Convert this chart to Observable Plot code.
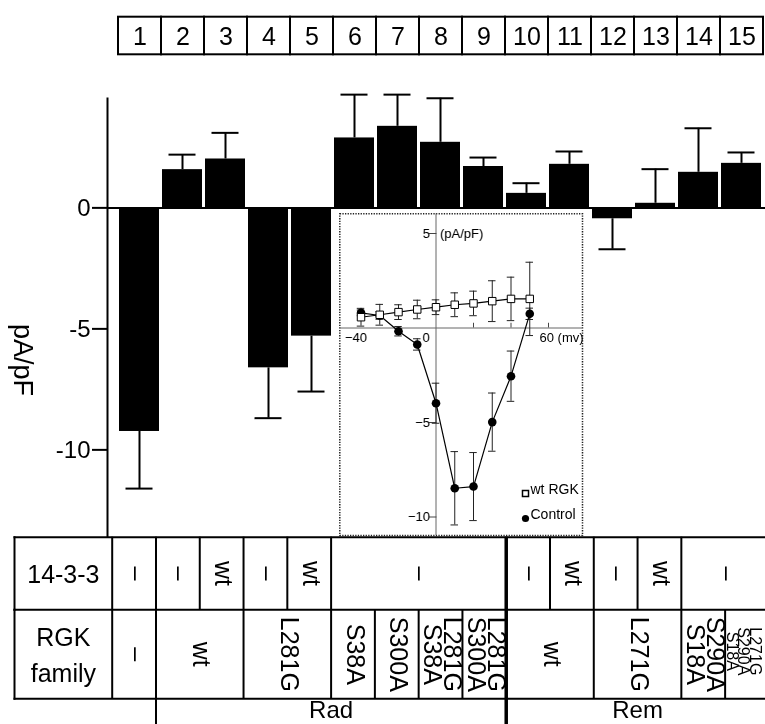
<!DOCTYPE html>
<html><head><meta charset="utf-8">
<script src="https://cdn.jsdelivr.net/npm/d3@7"></script>
<script src="https://cdn.jsdelivr.net/npm/@observablehq/plot@0.6"></script>
<style>
html,body{margin:0;padding:0;overflow:hidden;background:#fff;}
#fig{position:relative;width:765px;height:724px;}
#fig svg{position:absolute;left:0;top:0;background:transparent;max-width:none;filter:grayscale(1);}
</style></head><body><div id="fig"></div>
<script>
// ---------- data ----------
const categories = [1,2,3,4,5,6,7,8,9,10,11,12,13,14,15];
const barValues = [-9.24, 1.58, 2.02, -6.61, -5.30, 2.89, 3.37, 2.71, 1.71, 0.60, 1.80, -0.45, 0.19, 1.47, 1.84];
const barSem    = [ 2.36, 0.62, 1.08,  2.08,  2.29, 1.79, 1.31, 1.82, 0.37, 0.42, 0.53,  1.26, 1.41, 1.82, 0.45];
const yTicks = [0, -5, -10];
const yLabel = "pA/pF";

const voltages   = [-40, -30, -20, -10, 0, 10, 20, 30, 40, 50];
const wtRGKMean  = [0.57, 0.70, 0.84, 0.98, 1.10, 1.23, 1.30, 1.42, 1.54, 1.54];
const wtRGKSem   = [0.47, 0.55, 0.39, 0.49, 0.39, 0.63, 0.65, 1.08, 1.15, 1.94];
const controlMean= [0.80, 0.66, -0.17, -0.87, -3.98, -8.48, -8.39, -4.98, -2.55, 0.75];
const controlSem = [0.15, 0.20, 0.25, 0.30, 1.06, 1.94, 1.80, 1.54, 1.33, 0.30];
const insetYTicks = [5, -5, -10];
const insetXTicks = [20, 40, 60];
const seriesNames = ["wt RGK", "Control"];

const rowLabels = ["14-3-3", "RGK\nfamily"];
const row1Text = ["–","–","wt","–","wt","–","–","wt","–","wt","–"];
const row1Span = [1,1,1,1,1,4,1,1,1,1,2];
const row2Text = ["–","wt","L281G","S38A","S300A","L281G\nS38A","L281G\nS300A","wt","L271G","S290A\nS18A","L271G\nS290A\nS18A"];
const row2Span = [1,2,2,1,1,1,1,2,2,1,1];
const groupText = ["Rad","Rem"];
const groupSpan = [8,6];

// ---------- layout ----------
const W = 765, H = 724;
const FONT = "'Liberation Sans', Arial, Helvetica, sans-serif";
const colRange = [111.7, 768.4];
const style = {fontFamily: FONT, background: "transparent"};
const fig = document.getElementById("fig");

const bars = categories.map((c, i) => ({c, v: barValues[i], e: barValues[i] + Math.sign(barValues[i]) * barSem[i]}));

// main bar chart
const main = Plot.plot({
  width: W, height: H, marginLeft: 107, marginRight: 0, marginTop: 98, marginBottom: H - 536,
  style,
  x: {type: "band", domain: categories, range: colRange, paddingInner: 0.07, paddingOuter: 0.035, axis: null},
  y: {domain: [-13.58, 4.52], axis: null},
  marks: [
    Plot.ruleY([0], {strokeWidth: 2}),
    Plot.barY(bars, {x: "c", y: "v", fill: "black"}),
    Plot.ruleX(bars, {x: "c", y1: "v", y2: "e", strokeWidth: 2}),
    Plot.tickY(bars, {x: "c", y: "e", strokeWidth: 2, insetLeft: 6.5, insetRight: 6.5}),
    Plot.axisY({ticks: yTicks, tickSize: 15, tickPadding: 2, fontSize: 24, strokeWidth: 2, label: null,
                tickFormat: d => (d < 0 ? "-" : "") + Math.abs(d)}),
    Plot.frame({anchor: "left", strokeWidth: 2}),
    Plot.text([yLabel], {text: d => d, frameAnchor: "left", dx: -85, dy: 6.5, rotate: 90, fontSize: 27})
  ]
});
fig.appendChild(main);

// header number boxes
const header = Plot.plot({
  width: W, height: H, marginLeft: 0, marginRight: 0, marginTop: 16.7, marginBottom: H - 54.3,
  style,
  x: {type: "band", domain: categories, range: colRange, padding: 0, axis: null},
  marks: [
    Plot.cell(categories, {x: d => d, fill: "white", stroke: "black", strokeWidth: 2}),
    Plot.text(categories, {x: d => d, text: d => String(d), fontSize: 25, dy: 1})
  ]
});
fig.appendChild(header);

// table rows
function spans(texts, widths, start) {
  let s = start;
  return texts.map((t, i) => { const a = s; s += widths[i]; return {t, x1: a - 0.5, x2: s - 0.5, xc: (a + s - 1) / 2, n: t.split("\n").length}; });
}
const colX = {domain: [0.5, 15.5], range: colRange, axis: null};
const labelDx = (colRange[0] - 14) / 2;
function tableRow(cells, label, top, bottom, withBottom) {
  return Plot.plot({
    width: W, height: H, marginLeft: 14, marginRight: 0, marginTop: top, marginBottom: H - bottom,
    style, x: colX,
    marks: [
      Plot.frame({anchor: "top", strokeWidth: 2}),
      withBottom ? Plot.frame({anchor: "bottom", strokeWidth: 2}) : null,
      Plot.frame({anchor: "left", strokeWidth: 2}),
      Plot.ruleX(cells, {x: "x1", strokeWidth: 2}),
      Plot.text([label], {text: d => d, frameAnchor: "left", textAnchor: "middle", dx: labelDx, dy: -2, fontSize: 25, lineHeight: 1.45}),
      Plot.text(cells.filter(d => d.n < 3), {x: "xc", text: "t", rotate: 90, lineHeight: 0.8, fontSize: 25}),
      Plot.text(cells.filter(d => d.n >= 3), {x: "xc", text: "t", rotate: 90, lineHeight: 0.7, fontSize: 16, dx: -5, dy: -3})
    ]
  });
}
fig.appendChild(tableRow(spans(row1Text, row1Span, 1), rowLabels[0], 536.7, 609.3, false));
fig.appendChild(tableRow(spans(row2Text, row2Span, 1), rowLabels[1], 609.3, 698.3, true));

const grp = spans(groupText, groupSpan, 2);
const groupRow = Plot.plot({
  width: W, height: H, marginLeft: 14, marginRight: 0, marginTop: 698.3, marginBottom: 0,
  style, x: colX,
  marks: [
    Plot.ruleX(grp.slice(0, 1), {x: "x1", strokeWidth: 2}),
    Plot.text(grp, {x: "xc", text: "t", fontSize: 24, dy: -1})
  ]
});
fig.appendChild(groupRow);
const groupDivider = Plot.plot({
  width: W, height: H, marginLeft: 14, marginRight: 0, marginTop: 536.7, marginBottom: 0,
  style, x: colX,
  marks: [Plot.ruleX(grp.slice(1), {x: "x1", strokeWidth: 3.5})]
});
fig.appendChild(groupDivider);

// inset I-V plot
const wt = voltages.map((v, i) => ({v, m: wtRGKMean[i], s: wtRGKSem[i]}));
const ctl = voltages.map((v, i) => ({v, m: controlMean[i], s: controlSem[i]}));
const errMarks = (data, color) => [
  Plot.ruleX(data, {x: "v", y1: d => d.m - d.s, y2: d => d.m + d.s, stroke: color, strokeWidth: 1}),
  Plot.ruleY(data, {y: d => d.m - d.s, x1: d => d.v - 2, x2: d => d.v + 2, stroke: color, strokeWidth: 1}),
  Plot.ruleY(data, {y: d => d.m + d.s, x1: d => d.v - 2, x2: d => d.v + 2, stroke: color, strokeWidth: 1})
];
const inset = Plot.plot({
  width: W, height: H, marginLeft: 339.3, marginRight: W - 582, marginTop: 213.3, marginBottom: H - 535,
  style,
  x: {domain: [-40, 60], range: [360.5, 548], axis: null},
  y: {domain: [-10, 5], range: [516.5, 233], axis: null},
  marks: [
    Plot.frame({fill: "white", stroke: "#222", strokeDasharray: "1.3,1.3", strokeWidth: 1.5}),
    Plot.ruleX([0], {stroke: "#666"}),
    Plot.ruleY([0], {stroke: "#666"}),
    Plot.ruleY(insetYTicks, {x1: -3.5, x2: 0.5, stroke: "#444"}),
    Plot.ruleX(insetXTicks, {y1: 0, y2: 0.25, stroke: "#444"}),
    Plot.text(insetYTicks, {x: 0, y: d => d, text: d => (d < 0 ? "−" : "") + Math.abs(d), textAnchor: "end", dx: -6, fontSize: 13}),
    Plot.text(["(pA/pF)"], {x: 0, y: insetYTicks[0], text: d => d, textAnchor: "start", dx: 4, fontSize: 13}),
    Plot.text([-40], {x: d => d, y: 0, text: d => "−" + Math.abs(d), dx: -5, dy: 10, fontSize: 13}),
    Plot.text([0], {x: d => d, y: 0, text: d => String(d), dx: -10, dy: 10, fontSize: 13}),
    Plot.text([60], {x: d => d, y: 0, text: d => d + " (mv)", textAnchor: "start", dx: -9, dy: 10, fontSize: 13}),
    ...errMarks(ctl, "#222"),
    ...errMarks(wt, "#222"),
    Plot.line(ctl, {x: "v", y: "m", stroke: "black", strokeWidth: 1.2}),
    Plot.line(wt, {x: "v", y: "m", stroke: "black", strokeWidth: 1.2}),
    Plot.dot(ctl, {x: "v", y: "m", r: 4.3, fill: "black"}),
    Plot.dot(wt, {x: "v", y: "m", r: 4.2, symbol: "square", fill: "white", stroke: "black", strokeWidth: 1}),
    // legend
    Plot.dot([seriesNames[0]], {frameAnchor: "bottom-right", dx: -57, dy: -42, r: 3.4, symbol: "square", fill: "white", stroke: "black"}),
    Plot.dot([seriesNames[1]], {frameAnchor: "bottom-right", dx: -57, dy: -17, r: 3.6, fill: "black"}),
    Plot.text([seriesNames[0]], {text: d => d, frameAnchor: "bottom-right", textAnchor: "start", dx: -52, dy: -42, fontSize: 14}),
    Plot.text([seriesNames[1]], {text: d => d, frameAnchor: "bottom-right", textAnchor: "start", dx: -52, dy: -17, fontSize: 14})
  ]
});
fig.appendChild(inset);
</script></body></html>
